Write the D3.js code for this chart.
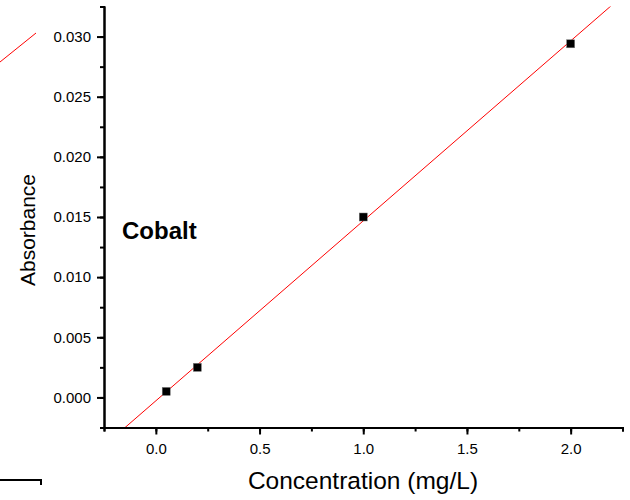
<!DOCTYPE html>
<html>
<head>
<meta charset="utf-8">
<script src="https://cdn.jsdelivr.net/npm/d3@7"></script>
<style>
  html, body { margin: 0; padding: 0; background: #fff; }
  svg { display: block; font-family: "Liberation Sans", Arial, sans-serif; }
</style>
</head>
<body>
<svg id="chart" width="630" height="500"></svg>
<script>
// ---- data ----
const concentrations = [0.05, 0.2, 1.0, 2.0];          // mg/L
const absorbances    = [0.0005, 0.0025, 0.0150, 0.0294];
const fitSlope = 0.01496;
const fitIntercept = -0.00028;
const xTickValues = [0.0, 0.5, 1.0, 1.5, 2.0];
const xTickLabels = ["0.0", "0.5", "1.0", "1.5", "2.0"];
const yTickValues = [0.000, 0.005, 0.010, 0.015, 0.020, 0.025, 0.030];
const yTickLabels = ["0.000", "0.005", "0.010", "0.015", "0.020", "0.025", "0.030"];
const xDomain = [-0.25, 2.25];
const yDomain = [-0.0025, 0.0325];
const xLabel = "Concentration (mg/L)";
const yLabel = "Absorbance";
const annotation = "Cobalt";

(function () {
const svg = d3.select("#chart");
const mLeft = 104, mRight = 622.5, mTop = 6.5, mBottom = 427.5;

const x = d3.scaleLinear().domain(xDomain).range([mLeft, mRight]);
const y = d3.scaleLinear().domain(yDomain).range([mBottom, mTop]);

svg.append("clipPath").attr("id", "plotclip")
  .append("rect").attr("x", mLeft).attr("y", mTop)
  .attr("width", mRight - mLeft).attr("height", mBottom - mTop);

// fit line
const fx0 = xDomain[0], fx1 = xDomain[1];
svg.append("line")
  .attr("clip-path", "url(#plotclip)")
  .attr("x1", x(fx0)).attr("y1", y(fitSlope * fx0 + fitIntercept))
  .attr("x2", x(fx1)).attr("y2", y(fitSlope * fx1 + fitIntercept))
  .attr("stroke", "#ff0000").attr("stroke-width", 1);

const xMinor = d3.range(0, 11).map(i => xDomain[0] + i * 0.25);
const yMinor = d3.range(0, 15).map(i => yDomain[0] + i * 0.0025);

const xAxisMinor = d3.axisBottom(x).tickValues(xMinor).tickSize(4).tickFormat("");
const xAxis = d3.axisBottom(x).tickValues(xTickValues).tickSize(7).tickSizeOuter(0)
  .tickFormat((d, i) => xTickLabels[i]).tickPadding(9);
const yAxisMinor = d3.axisLeft(y).tickValues(yMinor).tickSize(4).tickFormat("");
const yAxis = d3.axisLeft(y).tickValues(yTickValues).tickSize(7).tickSizeOuter(0)
  .tickFormat((d, i) => yTickLabels[i]).tickPadding(6);

function styleAxis(g) {
  g.selectAll("path.domain").attr("stroke", "#000").attr("stroke-width", 2);
  g.selectAll(".tick line").attr("stroke", "#000").attr("stroke-width", 2);
  g.selectAll(".tick text").attr("fill", "#000").attr("font-size", 15)
    .attr("font-family", "'Liberation Sans', Arial, sans-serif");
}

svg.append("g").attr("transform", `translate(0,${mBottom})`).call(xAxisMinor).call(styleAxis);
svg.append("g").attr("transform", `translate(0,${mBottom})`).call(xAxis).call(styleAxis);
svg.append("g").attr("transform", `translate(${mLeft},0)`).call(yAxisMinor).call(styleAxis);
svg.append("g").attr("transform", `translate(${mLeft},0)`).call(yAxis).call(styleAxis);

// data points
svg.append("g").selectAll("rect").data(concentrations).join("rect")
  .attr("x", d => x(d) - 4)
  .attr("y", (d, i) => y(absorbances[i]) - 4)
  .attr("width", 8).attr("height", 8)
  .attr("fill", "#000").attr("stroke", "#777").attr("stroke-width", 0.5);

// annotation
svg.append("text").attr("x", 122).attr("y", 239)
  .attr("font-size", 24).attr("font-weight", "bold").attr("fill", "#000")
  .text(annotation);

// axis titles
svg.append("text")
  .attr("x", 363).attr("y", 489)
  .attr("text-anchor", "middle").attr("font-size", 24.5).attr("fill", "#000")
  .text(xLabel);
svg.append("text")
  .attr("transform", `translate(35,230) rotate(-90)`)
  .attr("text-anchor", "middle").attr("font-size", 21).attr("fill", "#000")
  .text(yLabel);

// stray fragments of a neighbouring panel at the image edges
svg.append("line").attr("x1", 0).attr("y1", 62).attr("x2", 36).attr("y2", 33)
  .attr("stroke", "#ff0000").attr("stroke-width", 1);
svg.append("path").attr("d", "M0,480H41V485")
  .attr("fill", "none").attr("stroke", "#000").attr("stroke-width", 2);
})();
</script>
</body>
</html>
